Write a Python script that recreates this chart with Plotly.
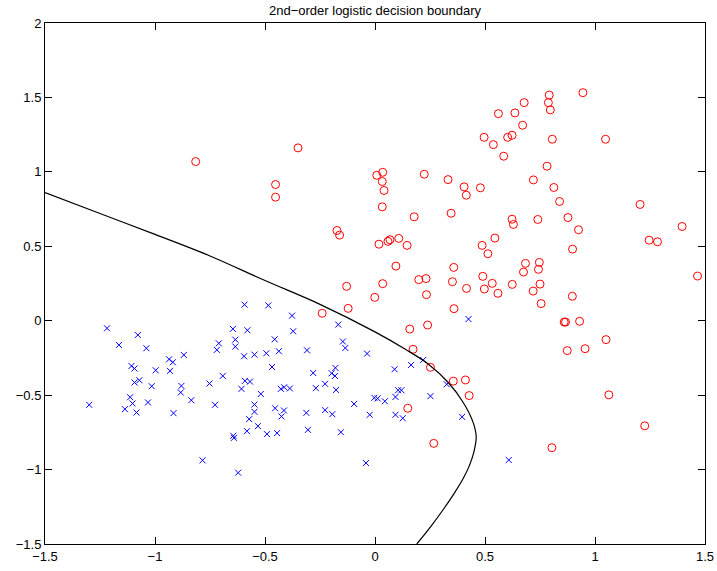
import plotly.graph_objects as go

# Class 0 (blue crosses)
cross_x = [-0.593, -0.485, -1.218, -1.078, -1.164, -1.039, -0.646, -0.580, -0.710, -0.719,
           -0.635, -0.635, -0.595, -0.548, -0.494, -0.936, -0.919, -0.869, -1.107, -1.093,
           -0.997, -0.932, -0.692, -0.752, -1.093, -1.071, -1.015, -0.880, -0.883, -0.835,
           -0.591, -0.568, -0.607, -0.519, -1.113, -1.102, -1.032, -1.299, -1.137, -1.084,
           -0.916, -0.727, -0.548, -0.548, -0.572, -0.532, -0.491, -0.582, -0.644, -0.641,
           -0.784, -0.622, -0.377, -0.372, -0.456, -0.437, -0.309, -0.167, -0.146, -0.135,
           -0.036, -0.468, -0.281, -0.180, -0.197, -0.182, -0.428, -0.413, -0.387, -0.269,
           -0.227, -0.177, -0.095, -0.003, 0.012, 0.045, 0.093, 0.105, 0.120, 0.089,
           0.164, 0.219, 0.252, 0.326, 0.396, -0.454, -0.414, -0.425, -0.312, -0.227,
           -0.194, -0.024, 0.093, 0.126, -0.445, -0.305, -0.155, -0.041, 0.425, 0.608]
cross_y = [0.108, 0.103, -0.051, -0.096, -0.163, -0.185, -0.055, -0.064, -0.152, -0.196,
           -0.127, -0.174, -0.239, -0.228, -0.219, -0.259, -0.279, -0.230, -0.304, -0.321,
           -0.333, -0.337, -0.371, -0.422, -0.415, -0.400, -0.440, -0.438, -0.482, -0.534,
           -0.404, -0.409, -0.458, -0.492, -0.514, -0.556, -0.549, -0.565, -0.594, -0.617,
           -0.621, -0.565, -0.563, -0.612, -0.661, -0.708, -0.762, -0.742, -0.773, -0.787,
           -0.938, -1.021, 0.034, -0.071, -0.125, -0.205, -0.199, -0.026, -0.140, -0.183,
           -0.221, -0.311, -0.351, -0.317, -0.353, -0.371, -0.458, -0.447, -0.455, -0.453,
           -0.424, -0.465, -0.559, -0.518, -0.522, -0.541, -0.512, -0.467, -0.467, -0.326,
           -0.297, -0.264, -0.507, -0.427, -0.646, -0.588, -0.603, -0.643, -0.619, -0.601,
           -0.628, -0.632, -0.632, -0.655, -0.755, -0.733, -0.749, -0.956, 0.011, -0.936]

# Class 1 (red circles)
circle_x = [-0.129, 0.035, -0.001, -0.122, -0.240, 0.234, 0.359, 0.158, 0.239, 0.173,
            0.252, 0.356, 0.411, 0.428, 0.149, 0.267, -0.815, -0.350, -0.452, -0.452,
            0.008, 0.035, 0.033, 0.041, 0.033, -0.173, -0.161, 0.018, 0.059, 0.068,
            0.108, 0.095, 0.792, 0.788, 0.797, 0.678, 0.561, 0.636, 0.671, 0.496,
            0.538, 0.603, 0.623, 0.585, 0.806, 0.782, 0.720, 0.813, 0.839, 0.224,
            0.332, 0.405, 0.415, 0.479, 0.178, 0.346, 0.623, 0.629, 0.740, 0.545,
            0.945, 1.048, 0.877, 0.925, 1.205, 1.396, 0.146, 0.199, 0.232, 0.358,
            0.352, 0.416, 0.804, 0.487, 0.513, 0.490, 0.533, 0.497, 0.559, 0.624,
            0.684, 0.675, 0.747, 0.743, 0.750, 0.719, 0.755, 1.246, 1.284, 0.898,
            1.466, 0.897, 0.860, 0.866, 0.930, 1.050, 0.874, 0.955, 1.063, 1.226]
circle_y = [0.231, 0.249, 0.157, 0.083, 0.050, 0.175, 0.081, -0.056, -0.029, -0.192,
            -0.313, -0.406, -0.398, -0.503, -0.588, -0.824, 1.069, 1.161, 0.915, 0.830,
            0.977, 0.997, 0.935, 0.875, 0.765, 0.606, 0.575, 0.514, 0.533, 0.544,
            0.553, 0.367, 1.516, 1.465, 1.416, 1.465, 1.391, 1.396, 1.313, 1.232,
            1.183, 1.232, 1.246, 1.105, 1.219, 1.038, 0.946, 0.895, 0.801, 0.984,
            0.948, 0.899, 0.843, 0.893, 0.698, 0.722, 0.682, 0.647, 0.680, 0.555,
            1.532, 1.219, 0.693, 0.611, 0.781, 0.633, 0.506, 0.276, 0.283, 0.358,
            0.262, 0.217, -0.853, 0.506, 0.450, 0.298, 0.251, 0.213, 0.184, 0.244,
            0.385, 0.327, 0.392, 0.345, 0.246, 0.199, 0.115, 0.541, 0.530, 0.481,
            0.300, 0.164, -0.009, -0.009, -0.004, -0.127, -0.201, -0.188, -0.498, -0.706]

# Decision boundary
boundary_x = [-1.5, -1.25, -1.0, -0.75, -0.5, -0.25, 0.0, 0.138, 0.243, 0.333,
              0.401, 0.446, 0.46, 0.449, 0.430, 0.402, 0.360, 0.312, 0.255, 0.19]
boundary_y = [0.861, 0.72, 0.58, 0.435, 0.27, 0.11, -0.075, -0.192, -0.292, -0.415,
              -0.549, -0.683, -0.78, -0.885, -0.97, -1.057, -1.16, -1.265, -1.38, -1.5]

x_ticks = [-1.5, -1, -0.5, 0, 0.5, 1, 1.5]
y_ticks = [-1.5, -1, -0.5, 0, 0.5, 1, 1.5, 2]

fig = go.Figure()
fig.add_trace(go.Scatter(x=cross_x, y=cross_y, mode="markers",
                         marker=dict(symbol="x-thin", size=6,
                                     line=dict(width=1, color="#0000ff"))))
fig.add_trace(go.Scatter(x=circle_x, y=circle_y, mode="markers",
                         marker=dict(symbol="circle-open", size=8, color="#ff0000",
                                     line=dict(width=1))))
fig.add_trace(go.Scatter(x=boundary_x, y=boundary_y, mode="lines",
                         line=dict(color="black", width=1.2, shape="spline")))

axis_common = dict(showgrid=False, zeroline=False, showline=True, linecolor="black",
                   linewidth=1, mirror="ticks", ticks="inside", ticklen=7,
                   tickcolor="black", tickwidth=1, automargin=False,
                   tickfont=dict(family="Liberation Sans", size=13, color="black"))

fig.update_layout(
    width=717, height=571,
    margin=dict(l=45, r=12, t=23, b=27),
    paper_bgcolor="white", plot_bgcolor="white",
    showlegend=False,
    xaxis=dict(range=[-1.5, 1.5], tickvals=x_ticks, **axis_common),
    yaxis=dict(range=[-1.5, 2], tickvals=y_ticks, **axis_common),
)
fig.add_annotation(text="2nd\u2212order logistic decision boundary",
                   x=0.5, xref="paper", y=1, yref="paper",
                   xanchor="center", yanchor="middle", yshift=13, showarrow=False,
                   font=dict(family="Liberation Sans", size=13, color="black"))

fig.write_html("out.html", config={"displayModeBar": False},
               post_script="document.body.style.margin='0';document.body.style.padding='0';")
